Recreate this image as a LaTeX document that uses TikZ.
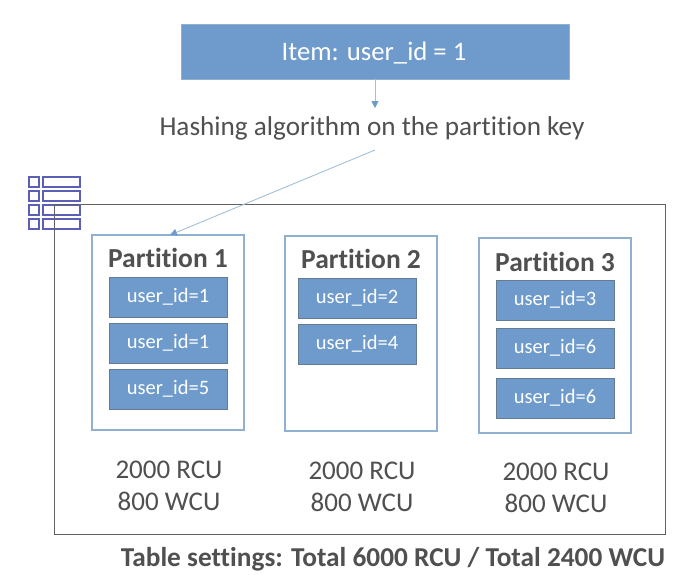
\documentclass[tikz,border=0pt]{standalone}
\usepackage{fontspec}
\setmainfont{Carlito}[RawFeature={-liga;-clig;-dlig}]
\usetikzlibrary{arrows.meta}
\definecolor{boxblue}{HTML}{6E9BCB}
\definecolor{edgeblue}{HTML}{8FB0CF}
\definecolor{linkblue}{HTML}{A3C0DA}
\definecolor{txt}{HTML}{505050}
\definecolor{iconblue}{HTML}{5B5FB5}
\tikzset{
  x=1pt,y=-1pt,
  pixbox/.style={inner sep=0pt,outer sep=0pt,anchor=north west},
  itembox/.style={pixbox,fill=boxblue,draw=edgeblue,line width=0.8pt},
  idbox/.style={pixbox,fill=boxblue,draw=edgeblue!70!black,line width=0.6pt,text=white,font=\fontsize{20.5}{24}\selectfont,minimum width=118pt,minimum height=40pt,text height=14pt,text depth=3pt},
  partbox/.style={pixbox,draw=edgeblue,line width=1.1pt,minimum width=152pt,minimum height=195pt},
  parttitle/.style={text=txt,font=\bfseries\fontsize{27.5}{32}\selectfont,inner sep=0pt},
  capacity/.style={text=txt,font=\fontsize{27}{32}\selectfont,align=center,inner sep=0pt},
  conn/.style={draw=linkblue,line width=0.9pt,-{Triangle[length=7pt,width=7pt,color=boxblue,fill=boxblue]}},
  iconcell/.style={pixbox,draw=iconblue,line width=1.2pt,minimum height=10pt},
}
\begin{document}
\begin{tikzpicture}
\useasboundingbox (0,0) rectangle (680,574);
\fill[white] (0,0) rectangle (680,574);
% table icon
\foreach \n/\y in {1/177,2/191,3/205,4/219}{
  \node[iconcell,minimum width=10pt] (ca\n) at (29,\y) {};
  \node[iconcell,minimum width=37pt] (cb\n) at (43,\y) {};
}
\node[pixbox,draw=black!62,line width=1pt,minimum width=611pt,minimum height=330pt] (table) at (54,204) {};
\node[itembox,minimum width=388pt,minimum height=55pt] (item) at (181,24) {};
\node[text=white,font=\fontsize{26.7}{30}\selectfont,inner sep=0pt] (itemtext) at (374,53) {Item: user\_id = 1};
\node[text=txt,font=\fontsize{27.2}{32}\selectfont,inner sep=0pt] (hash) at (372,128) {Hashing algorithm on the partition key};
\coordinate (hashout) at (375,150);
\coordinate (hashin) at (375,108);
\coordinate (itemout) at (375,79);
\node[partbox] (p1) at (92,235) {};
\node[partbox] (p2) at (285,236) {};
\node[partbox] (p3) at (479,238) {};
\coordinate (p1in) at ([xshift=78pt]p1.north west);
\node[parttitle] (t1) at (168,258) {Partition 1};
\node[parttitle] (t2) at (361,259) {Partition 2};
\node[parttitle] (t3) at (555,262) {Partition 3};
\node[idbox] (a1) at (109,277) {user\_id=1};
\node[idbox] (a2) at (109,323) {user\_id=1};
\node[idbox] (a3) at (109,369) {user\_id=5};
\node[idbox] (b1) at (298,278) {user\_id=2};
\node[idbox] (b2) at (298,324) {user\_id=4};
\node[idbox] (c1) at (496,280) {user\_id=3};
\node[idbox] (c2) at (496,328) {user\_id=6};
\node[idbox] (c3) at (496,378) {user\_id=6};
\node[capacity] (r1) at (169,486) {2000 RCU\\800 WCU};
\node[capacity] (r2) at (362,487) {2000 RCU\\800 WCU};
\node[capacity] (r3) at (556,488) {2000 RCU\\800 WCU};
\node[text=txt,font=\bfseries\fontsize{27.3}{32}\selectfont,inner sep=0pt] (settings) at (393,559) {Table settings: Total 6000 RCU / Total 2400 WCU};
\draw[conn] (itemout) -- (hashin);
\draw[conn] (hashout) -- (p1in);
\end{tikzpicture}
\end{document}
